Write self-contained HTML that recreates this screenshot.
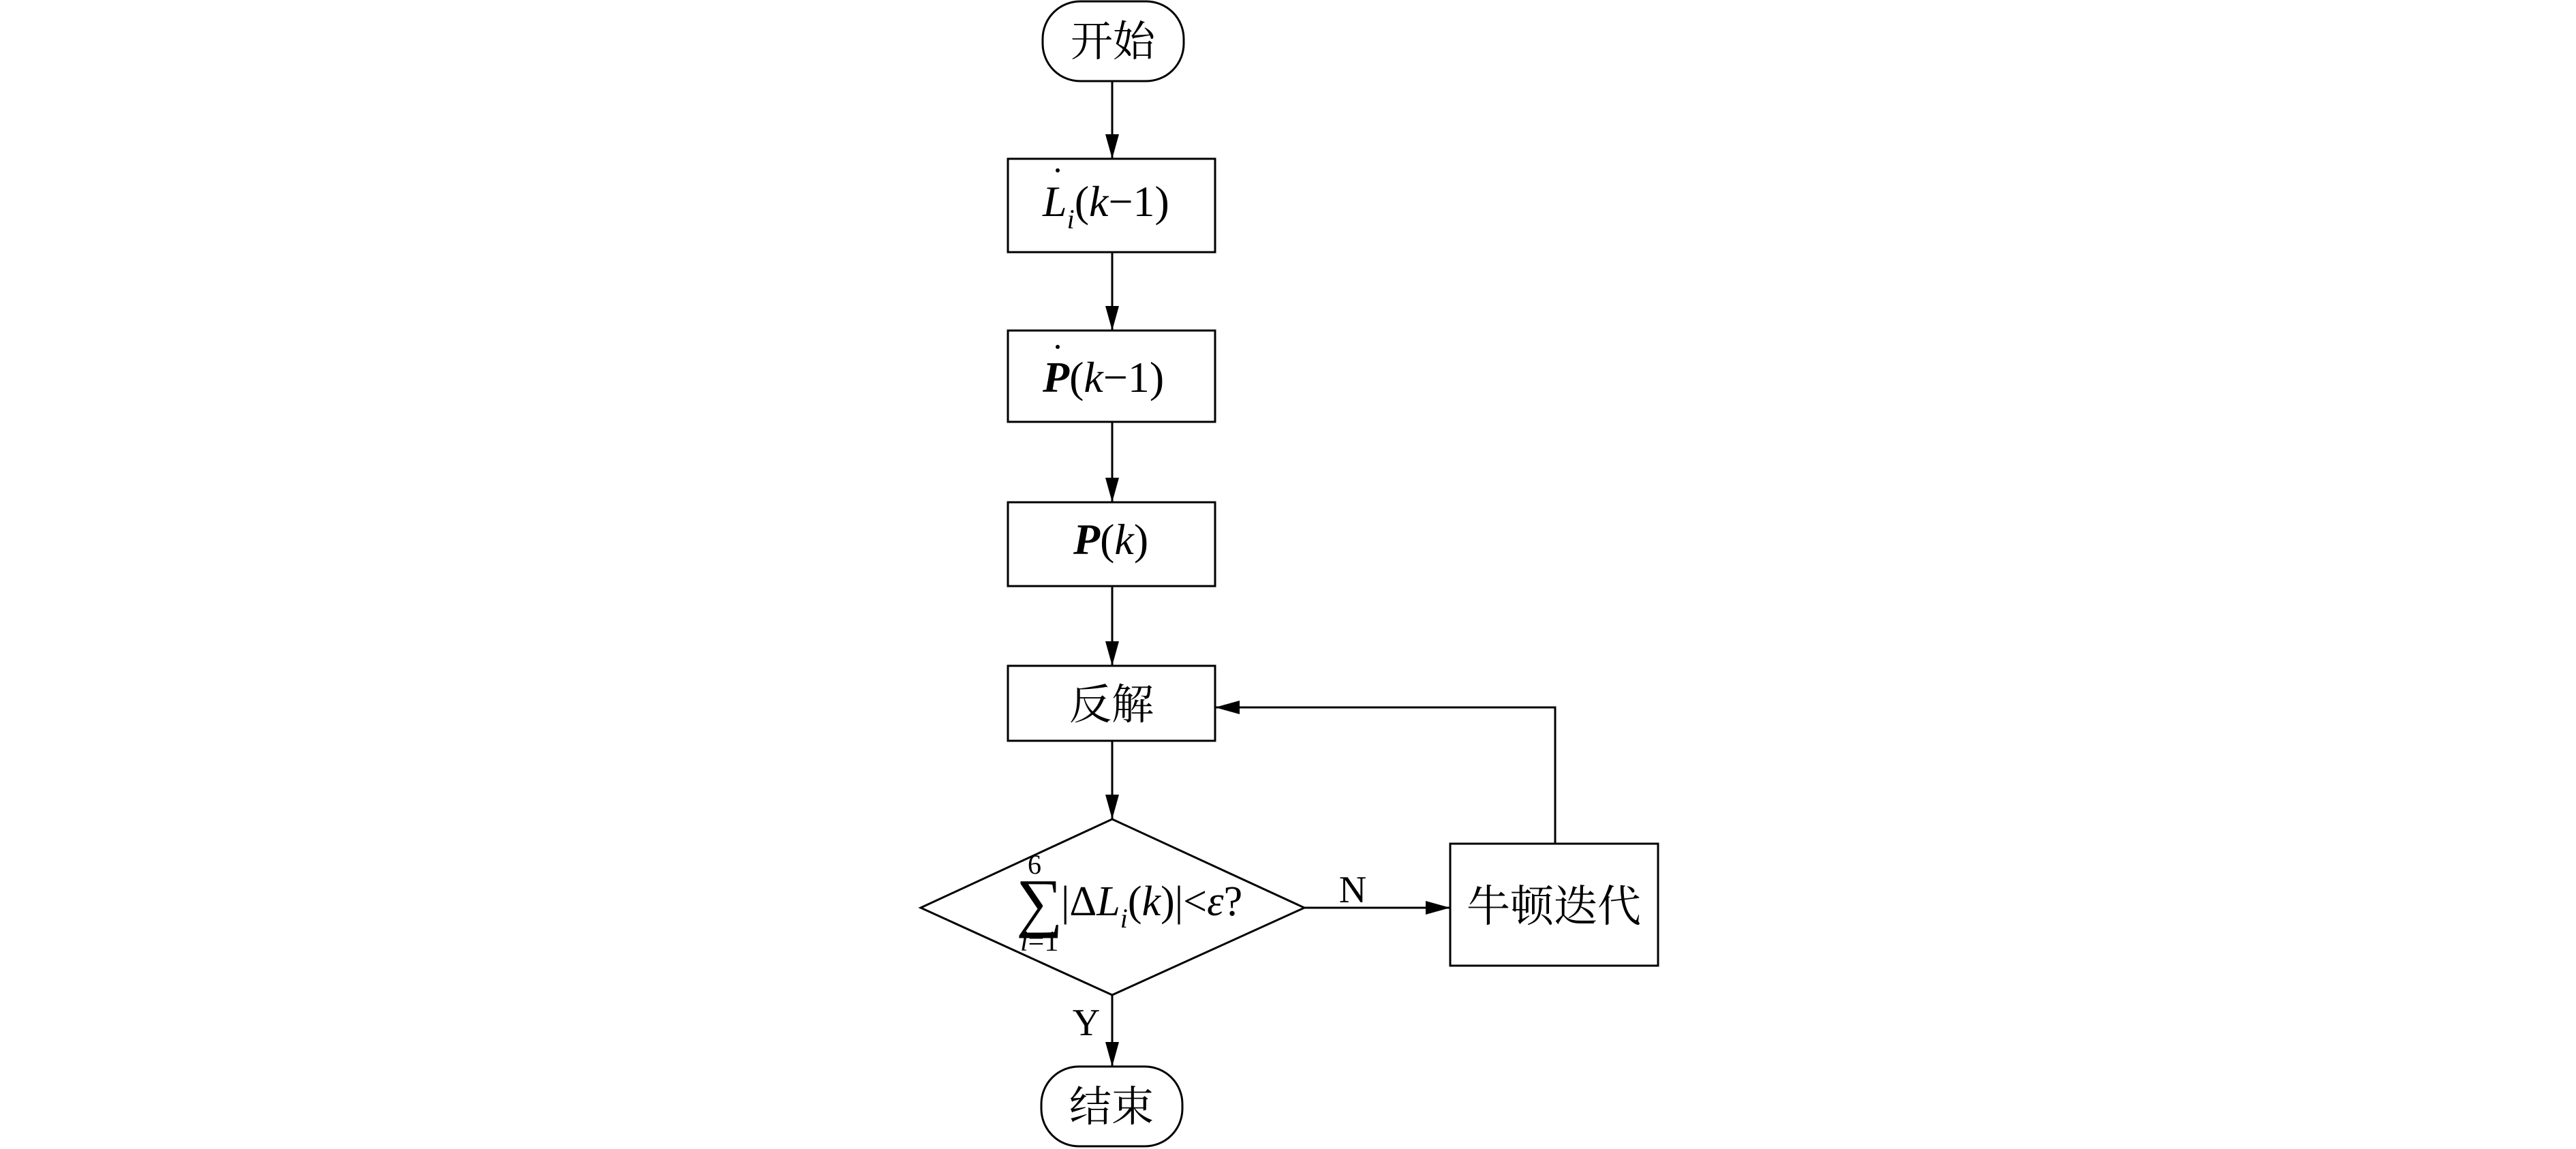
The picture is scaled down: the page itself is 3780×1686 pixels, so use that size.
<!DOCTYPE html>
<html><head><meta charset="utf-8"><style>
html,body{margin:0;padding:0;background:#fff;}
svg{display:block;}
text{font-family:"Liberation Serif","Noto Serif CJK SC",serif;fill:#000;}
.cn{font-family:"Liberation Serif","Noto Serif CJK SC","Noto Sans CJK SC",serif;}
</style></head><body>
<svg width="3780" height="1686" viewBox="0 0 3780 1686" xmlns="http://www.w3.org/2000/svg">
<defs>
<marker id="a" markerWidth="36" markerHeight="20" refX="36" refY="10" orient="auto" markerUnits="userSpaceOnUse">
<path d="M0,0 L36,10 L0,20 Z" fill="#000"/></marker>
</defs>
<g stroke="#000" stroke-width="3" fill="none">
<rect x="1530" y="2" width="207" height="117" rx="55" ry="55"/>
<rect x="1479" y="233" width="304" height="137"/>
<rect x="1479" y="485" width="304" height="134"/>
<rect x="1479" y="737" width="304" height="123"/>
<rect x="1479" y="977" width="304" height="110"/>
<polygon points="1632,1202 1914,1332 1632,1460 1351,1332"/>
<rect x="2128" y="1238" width="305" height="179"/>
<rect x="1528" y="1565" width="207" height="117" rx="55" ry="55"/>
<line x1="1632" y1="119" x2="1632" y2="233" marker-end="url(#a)"/>
<line x1="1632" y1="370" x2="1632" y2="485" marker-end="url(#a)"/>
<line x1="1632" y1="619" x2="1632" y2="737" marker-end="url(#a)"/>
<line x1="1632" y1="860" x2="1632" y2="977" marker-end="url(#a)"/>
<line x1="1632" y1="1087" x2="1632" y2="1202" marker-end="url(#a)"/>
<line x1="1632" y1="1460" x2="1632" y2="1565" marker-end="url(#a)"/>
<line x1="1914" y1="1332" x2="2128" y2="1332" marker-end="url(#a)"/>
<polyline points="2282,1238 2282,1038 1783,1038" marker-end="url(#a)"/>
</g>
<text class="cn" x="1633" y="82" font-size="62" text-anchor="middle">开始</text>
<text class="cn" x="1631" y="1645" font-size="62" text-anchor="middle">结束</text>
<text class="cn" x="1631" y="1055" font-size="62" text-anchor="middle">反解</text>
<text class="cn" x="2280" y="1352" font-size="64" text-anchor="middle">牛顿迭代</text>
<circle cx="1552" cy="250" r="3" fill="#000"/>
<text x="1530" y="317" font-size="64"><tspan font-style="italic">L</tspan><tspan font-size="40" font-style="italic" dy="18">i</tspan><tspan dy="-18">(</tspan><tspan font-style="italic">k</tspan>−1)</text>
<circle cx="1552" cy="509" r="3" fill="#000"/>
<text x="1530" y="575" font-size="64"><tspan font-style="italic" font-weight="bold">P</tspan>(<tspan font-style="italic">k</tspan>−1)</text>
<text x="1575" y="813" font-size="64"><tspan font-style="italic" font-weight="bold">P</tspan>(<tspan font-style="italic">k</tspan>)</text>
<text x="1508" y="1282" font-size="40">6</text>
<text x="1491" y="1356" font-size="96">∑</text>
<text x="1557" y="1343" font-size="62">|Δ<tspan font-style="italic">L</tspan><tspan font-size="40" font-style="italic" dy="18">i</tspan><tspan dy="-18">(</tspan><tspan font-style="italic">k</tspan>)|&lt;<tspan font-style="italic">ε</tspan>?</text>
<text x="1497" y="1395" font-size="42"><tspan font-style="italic">i</tspan>=1</text>
<text x="1985" y="1324" font-size="56" text-anchor="middle">N</text>
<text x="1594" y="1519" font-size="56" text-anchor="middle">Y</text>
</svg>
</body></html>
